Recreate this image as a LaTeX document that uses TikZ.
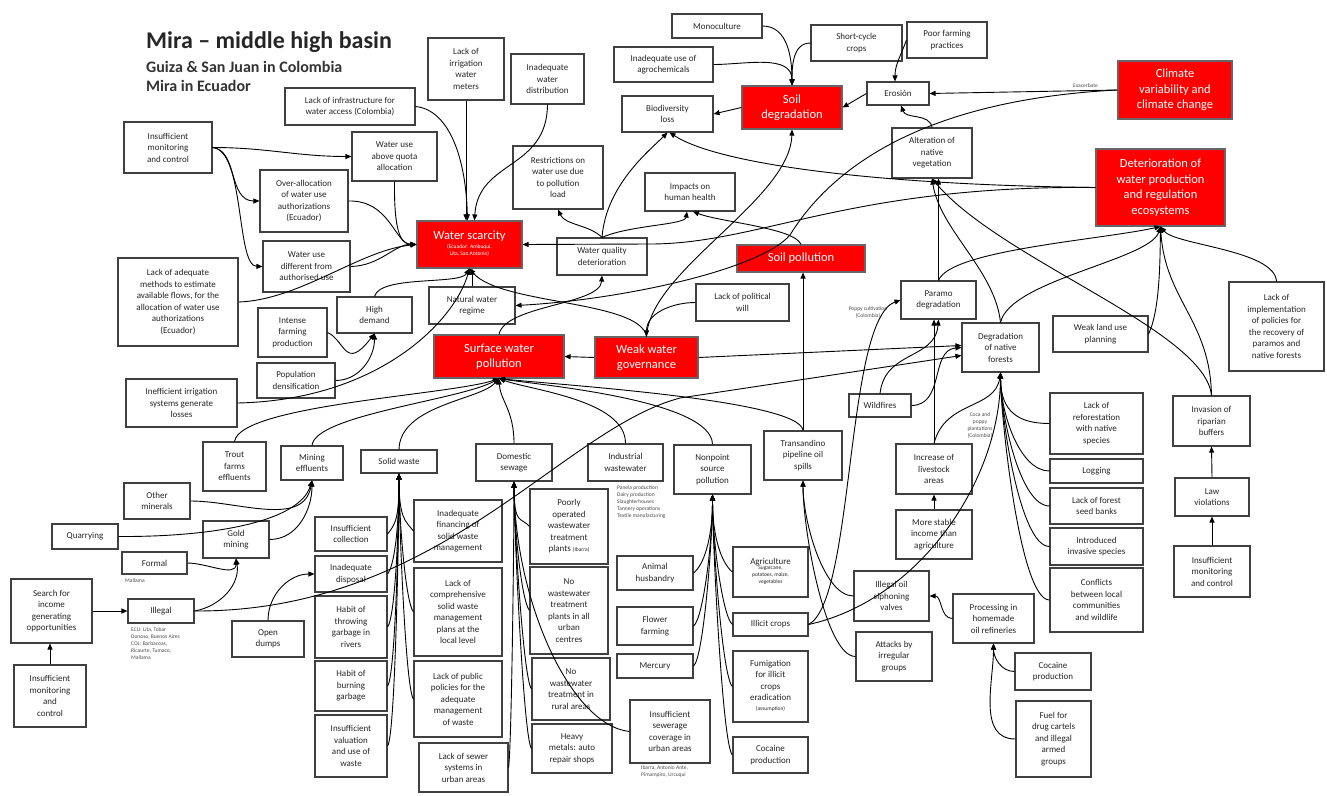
\documentclass[tikz,border=0pt]{standalone}
\usepackage{fontspec}
\setmainfont{Carlito}
\usetikzlibrary{arrows.meta}
\newcommand\smalltxt{\fontsize{5.5}{7}\selectfont}
\newcommand\subtxt[1]{{\smalltxt\begin{tabular}{@{}c@{}}#1\end{tabular}}}
% \bx[style]{name}{x1}{y1}{x2}{y2}{text}: a box given by its corners
\newcommand\bx[7][box]{%
  \pgfmathsetmacro\bw{#5-#3}\pgfmathsetmacro\bh{#6-#4}%
  \pgfmathsetmacro\bcx{(#3+#5)/2}\pgfmathsetmacro\bcy{(#4+#6)/2}%
  \node[#1,minimum width=\bw pt,minimum height=\bh pt] (#2) at (\bcx,\bcy) {#7};}
\begin{document}
\begin{tikzpicture}[x=1pt,y=-1pt,
  box/.style={draw=black!75,line width=1.1pt,fill=white,align=center,inner sep=1pt,
    font=\fontsize{9}{11.5}\selectfont,text=black!85},
  redbox/.style={box,fill=red,draw=black!60,text=white,font=\fontsize{12.5}{15.5}\selectfont},
  ar/.style={draw=black,line width=0.9pt,-{Triangle[length=6pt,width=5pt]}},
  captxt/.style={font=\smalltxt,text=black!70,align=left,inner sep=0pt}]
\useasboundingbox (0,0) rectangle (1327,795);
\fill[white] (0,0) rectangle (1327,795);

% title
\node[anchor=north west,inner sep=0pt,font=\bfseries\fontsize{24}{28}\selectfont,text=black!85] (title) at (146,31) {Mira – middle high basin};
\node[anchor=north west,inner sep=0pt,font=\bfseries\fontsize{16}{19}\selectfont,align=left,text=black!80] (subtitle) at (146,61) {Guiza \& San Juan in Colombia\\Mira in Ecuador};

% upper left: water scarcity
\bx{infra}{285}{88}{415}{125}{Lack of infrastructure for\\water access (Colombia)}
\bx{imc1}{124}{122}{212}{173}{Insufficient\\monitoring\\and control}
\bx{overalloc}{260}{170}{348}{232}{Over-allocation\\of water use\\authorizations\\(Ecuador)}
\bx{diffuse}{263}{241}{350}{292}{Water use\\different from\\authorised use}
\bx{quota}{352}{132}{437}{181}{Water use\\above quota\\allocation}
\bx{meters}{428}{38}{504}{100}{Lack of\\irrigation\\water\\meters}
\bx{distrib}{511}{54}{584}{104}{Inadequate\\water\\distribution}
\bx{restrict}{513}{146}{603}{209}{Restrictions on\\water use due\\to pollution\\load}
\bx[redbox]{ws}{417}{221}{522}{268}{Water scarcity\\[-3pt]\subtxt{(Ecuador: Ambuquí,\\Lita, San Antonio)}}
\bx{methods}{118}{258}{238}{346}{Lack of adequate\\methods to estimate\\available flows, for the\\allocation of water use\\authorizations\\(Ecuador)}
\bx{intense}{258}{308}{327}{357}{Intense\\farming\\production}
\bx{popdens}{257}{363}{335}{398}{Population\\densification}
\bx{highdem}{337}{297}{412}{333}{High\\demand}
\bx{natreg}{429}{287}{515}{324}{Natural water\\regime}
\bx{ineffirr}{126}{379}{237}{427}{Inefficient irrigation\\systems generate\\losses}

% upper middle: soil
\bx{agrochem}{614}{47}{713}{82}{Inadequate use of\\agrochemicals}
\bx{biodiv}{622}{96}{713}{132}{Biodiversity\\loss}
\bx{health}{645}{173}{735}{211}{Impacts on\\human health}
\bx{mono}{672}{14}{762}{38}{Monoculture}
\bx{shortcyc}{811}{25}{902}{61}{Short-cycle\\crops}
\bx{poorfarm}{907}{22}{987}{58}{Poor farming\\practices}
\bx[redbox]{soildeg}{742}{86}{842}{129}{Soil\\degradation}
\bx{erosion}{867}{82}{929}{105}{Erosión}
\bx{altveg}{892}{128}{972}{178}{Alteration of\\native\\vegetation}
\bx[redbox]{soilpol}{737}{245}{865}{272}{Soil pollution}
\bx{wqd}{557}{238}{647}{275}{Water quality\\deterioration}
\bx{polwill}{696}{284}{789}{321}{Lack of political\\will}

% upper right
\bx[redbox]{climate}{1118}{61}{1232}{119}{Climate\\variability and\\climate change}
\bx[redbox]{deter}{1096}{149}{1225}{226}{Deterioration of\\water production\\and regulation\\ecosystems}
\bx{paramo}{901}{281}{976}{319}{Paramo\\degradation}
\bx{forests}{962}{323}{1039}{372}{Degradation\\of native\\forests}
\bx{wildfires}{849}{394}{911}{417}{Wildfires}
\bx{livestock}{896}{444}{972}{494}{Increase of\\livestock\\areas}
\bx{income2}{896}{510}{972}{559}{More stable\\income than\\agriculture}
\bx{landuse}{1053}{316}{1148}{352}{Weak land use\\planning}
\bx{policies}{1229}{282}{1324}{371}{Lack of\\implementation\\of policies for\\the recovery of\\paramos and\\native forests}
\bx{reforest}{1050}{393}{1143}{454}{Lack of\\reforestation\\with native\\species}
\bx{logging}{1050}{459}{1143}{483}{Logging}
\bx{seedbanks}{1050}{488}{1143}{524}{Lack of forest\\seed banks}
\bx{invasive}{1050}{528}{1143}{565}{Introduced\\invasive species}
\bx{conflicts}{1050}{568}{1143}{632}{Conflicts\\between local\\communities\\and wildlife}
\bx{riparian}{1173}{396}{1250}{446}{Invasion of\\riparian\\buffers}
\bx{lawviol}{1175}{478}{1249}{516}{Law\\violations}
\bx{imc3}{1174}{546}{1250}{597}{Insufficient\\monitoring\\and control}
\bx{refineries}{953}{594}{1034}{643}{Processing in\\homemade\\oil refineries}
\bx{cocaine2}{1015}{653}{1091}{690}{Cocaine\\production}
\bx{fuel}{1016}{701}{1091}{777}{Fuel for\\drug cartels\\and illegal\\armed\\groups}
\bx{siphon}{854}{571}{929}{621}{Illegal oil\\siphoning\\valves}
\bx{attacks}{856}{632}{932}{681}{Attacks by\\irregular\\groups}

% middle: pollution
\bx[redbox]{swp}{434}{335}{564}{378}{Surface water\\pollution}
\bx[redbox]{wwg}{595}{337}{698}{378}{Weak water\\governance}
\bx{trout}{203}{442}{266}{491}{Trout\\farms\\effluents}
\bx{mining}{281}{446}{343}{480}{Mining\\effluents}
\bx{solid}{361}{450}{437}{473}{Solid waste}
\bx{domestic}{476}{444}{552}{481}{Domestic\\sewage}
\bx{industrial}{588}{444}{663}{481}{Industrial\\wastewater}
\bx{nonpoint}{674}{445}{751}{494}{Nonpoint\\source\\pollution}
\bx{transand}{764}{431}{842}{480}{Transandino\\pipeline oil\\spills}

% nonpoint sources
\bx{agric}{733}{547}{808}{597}{Agriculture\\[-2pt]\subtxt{Sugarcane,\\potatoes, maize,\\vegetables}}
\bx{illicit}{733}{613}{808}{636}{Illicit crops}
\bx{fumig}{733}{651}{808}{722}{Fumigation\\for illicit\\crops\\eradication\\[-2pt]\subtxt{(assumption)}}
\bx{cocaine1}{733}{737}{808}{773}{Cocaine\\production}
\bx{husbandry}{617}{556}{693}{590}{Animal\\husbandry}
\bx{flower}{617}{607}{693}{645}{Flower\\farming}
\bx{mercury}{617}{654}{693}{678}{Mercury}

% sewage sources
\bx{sewerage}{630}{700}{710}{763}{Insufficient\\sewerage\\coverage in\\urban areas}
\bx{poorwwtp}{530}{489}{608}{564}{Poorly\\operated\\wastewater\\treatment\\plants \subtxt{(Ibarra)}}
\bx{nowwtp}{530}{567}{608}{654}{No\\wastewater\\treatment\\plants in all\\urban\\centres}
\bx{norural}{532}{658}{610}{720}{No\\wastewater\\treatment in\\rural areas}
\bx{heavy}{532}{724}{612}{773}{Heavy\\metals: auto\\repair shops}
\bx{sewers}{419}{743}{508}{792}{Lack of sewer\\systems in\\urban areas}

% solid waste sources
\bx{financing}{414}{500}{502}{562}{Inadequate\\financing of\\solid waste\\management}
\bx{plans}{414}{568}{502}{656}{Lack of\\comprehensive\\solid waste\\management\\plans at the\\local level}
\bx{pubpol}{414}{661}{502}{737}{Lack of public\\policies for the\\adequate\\management\\of waste}
\bx{collection}{315}{517}{387}{551}{Insufficient\\collection}
\bx{disposal}{315}{556}{387}{592}{Inadequate\\disposal}
\bx{throwing}{315}{596}{387}{658}{Habit of\\throwing\\garbage in\\rivers}
\bx{burning}{315}{661}{387}{711}{Habit of\\burning\\garbage}
\bx{valuation}{315}{715}{387}{777}{Insufficient\\valuation\\and use of\\waste}
\bx{dumps}{232}{621}{304}{657}{Open\\dumps}

% mining sources
\bx{gold}{203}{521}{269}{558}{Gold\\mining}
\bx{quarry}{52}{524}{118}{549}{Quarrying}
\bx{minerals}{124}{483}{190}{519}{Other\\minerals}
\bx{formal}{122}{552}{187}{574}{Formal}
\bx{illegal}{128}{599}{194}{623}{Illegal}
\bx{search}{11}{579}{92}{643}{Search for\\income\\generating\\opportunities}
\bx{imc2}{14}{665}{86}{727}{Insufficient\\monitoring\\and\\control}

% small annotations
\node[captxt,anchor=north west] (capformal) at (125,578) {Mallama};
\node[captxt,anchor=north west] (capillegal) at (131,627) {ECU: Lita, Tobar\\Donoso, Buenos Aires\\COL: Barbacoas,\\Ricaurte, Tumaco,\\Mallama};
\node[captxt,anchor=north west] (capind) at (617,485) {Panela production\\Dairy production\\Slaughterhouses\\Tannery operations\\Textile manufacturing};
\node[captxt,anchor=north west] (capsew) at (641,765) {Ibarra, Antonio Ante,\\Pimampiro, Urcuquí};
\node[captxt,align=center] (cappoppy) at (868,312) {Poppy cultivation\\(Colombia)};
\node[captxt,align=center] (capcoca) at (980,425) {Coca and\\poppy\\plantations\\(Colombia)};

% ---- connectors ----
% causes of water scarcity
\draw[ar] (imc1.east) to[out=0,in=180] (quota.west);
\draw[ar] (imc1.east) .. controls (238,150) and (228,201) .. (overalloc.west);
\draw[ar] (imc1.east) .. controls (245,150) and (236,266) .. (diffuse.west);
\draw[ar] (infra.east) .. controls (450,110) and (466,160) .. ([xshift=-2]ws.north);
\draw[ar] (meters.south) -- (meters.south |- ws.north);
\draw[ar] (distrib.south) .. controls (547,170) and (478,160) .. ([xshift=5]ws.north);
\draw[ar] (quota.south) .. controls (394,230) and (400,244) .. (ws.west);
\draw[ar] (overalloc.east) .. controls (390,200) and (395,244) .. (ws.west);
\draw[ar] (diffuse.east) .. controls (380,266) and (395,244) .. (ws.west);
\draw[ar] (methods.east) .. controls (300,300) and (360,250) .. (ws.west);
\draw[ar] (highdem.north) .. controls (380,275) and (460,285) .. (ws.south);
\draw[ar] (natreg.north) -- (natreg.north |- ws.south);
\draw[ar] (ineffirr.east) .. controls (380,400) and (455,320) .. (ws.south);
\draw[ar] (popdens.east) to[out=0,in=-90] (highdem.south);
\draw[ar] (intense.east) .. controls (345,340) and (345,372) .. (highdem.south);

% water quality and soil
\draw[ar] (wqd.north) .. controls (590,225) and (565,225) .. (restrict.south);
\draw[ar] (wqd.north) .. controls (606,185) and (650,150) .. (biodiv.south);
\draw[ar] (wqd.north) .. controls (630,225) and (685,225) .. ([xshift=-3]health.south);
\draw[ar] (soilpol.north) .. controls (795,228) and (720,222) .. ([xshift=3]health.south);
\draw[ar] (swp.north) .. controls (505,305) and (600,305) .. (wqd.south);
\draw[ar] (soildeg.west) -- (biodiv.east);
\draw[ar] (mono.east) to[out=0,in=90] (soildeg.north);
\draw[ar] (agrochem.east) to[out=0,in=90] (soildeg.north);
\draw[ar] (shortcyc.west) to[out=180,in=90] (soildeg.north);
\draw[ar] (poorfarm.west) to[out=-110,in=90] ([xshift=-3]erosion.north);
\draw[ar] (erosion.west) -- (soildeg.east);
\draw[ar] (climate.west) -- (erosion.east) node[captxt,pos=0.17,above=3pt] {Exacerbate};
\draw[ar] (altveg.north) to[out=100,in=-70] ([xshift=3]erosion.south);
\draw[ar] (climate.west) .. controls (920,100) and (830,170) .. (790,235) .. controls (760,270) and (620,300) .. (natreg.east);

% governance
\draw[ar] (polwill.west) to[out=180,in=90] (wwg.north);
\draw[ar] (wwg.north) .. controls (640,300) and (500,305) .. (ws.south);
\draw[ar] (wwg.north) .. controls (650,270) and (790,200) .. (soildeg.south);
\draw[ar] (wwg.west) -- (swp.east);
\draw[ar] (wwg.east) -- ([yshift=2]forests.west);

% ecosystems
\draw[ar] (deter.west) .. controls (880,185) and (720,165) .. ([xshift=2]biodiv.south);
\draw[ar] (deter.west) .. controls (850,185) and (760,244) .. (650,244) -- (ws.east);
\draw[ar] (paramo.north) -- (paramo.north |- altveg.south);
\draw[ar] (paramo.north) .. controls (950,250) and (1100,240) .. (deter.south);
\draw[ar] (forests.north) .. controls (995,270) and (940,230) .. (altveg.south);
\draw[ar] (forests.north) .. controls (1010,280) and (1150,260) .. (deter.south);
\draw[ar] (riparian.north) .. controls (1205,330) and (1000,260) .. (altveg.south);
\draw[ar] (riparian.north) .. controls (1210,320) and (1165,300) .. (deter.south);
\draw[ar] (landuse.east) .. controls (1160,310) and (1160,260) .. (deter.south);
\draw[ar] (policies.north) .. controls (1275,250) and (1175,245) .. (deter.south);
\draw[ar] (livestock.north) -- (livestock.north |- paramo.south);
\draw[ar] (livestock.north) .. controls (945,400) and (995,410) .. (forests.south);
\draw[ar] (income2.north) -- (livestock.south);
\draw[ar] (wildfires.north) .. controls (885,350) and (935,360) .. (paramo.south);
\draw[ar] (wildfires.east) .. controls (945,405) and (930,350) .. (forests.west);
\draw[ar] (illicit.east) .. controls (855,600) and (845,320) .. (paramo.west);
\draw[ar] (illicit.east) .. controls (920,600) and (1000,480) .. (forests.south);
\foreach \n in {reforest,logging,seedbanks,invasive,conflicts}
  \draw[ar] (\n.west) .. controls ([xshift=-30]\n.west) and ([yshift=-40]forests.south) .. (forests.south);
\draw[ar] (lawviol.north) -- (riparian.south);
\draw[ar] (imc3.north) -- (lawviol.south);
\draw[ar] (illegal.east) .. controls (440,612) and (560,430) .. (680,398) -- ([yshift=-8]forests.west);

% mining
\draw[ar] (minerals.east) to[out=0,in=-100] (mining.south);
\draw[ar] (quarry.east) .. controls (220,537) and (300,520) .. (mining.south);
\draw[ar] (gold.east) to[out=0,in=-90] (mining.south);
\draw[ar] (formal.east) to[out=0,in=-90] (gold.south);
\draw[ar] (illegal.east) to[out=10,in=-80] (gold.south);
\draw[ar] (search.east) -- (illegal.west);
\draw[ar] (imc2.north) -- (imc2.north |- search.south);

% surface water pollution
\draw[ar] (trout.north) .. controls (240,405) and (450,395) .. (swp.south);
\draw[ar] (mining.north) .. controls (315,415) and (460,400) .. (swp.south);
\draw[ar] (solid.north) .. controls (400,405) and (480,400) .. (swp.south);
\draw[ar] (domestic.north) .. controls (514,410) and (500,400) .. (swp.south);
\draw[ar] (industrial.north) .. controls (626,400) and (530,390) .. (swp.south);
\draw[ar] (nonpoint.north) .. controls (712,400) and (540,385) .. (swp.south);
\draw[ar] (transand.north) .. controls (800,400) and (560,385) .. (swp.south);
\draw[ar] (transand.north) -- (transand.north |- soilpol.south);

% solid waste
\foreach \n in {collection,disposal,throwing,burning,valuation}
  \draw[ar] (\n.east) .. controls ([xshift=8,yshift=10]\n.east) and ([yshift=-45]solid.south) .. (solid.south);
\foreach \n in {financing,plans,pubpol}
  \draw[ar] (\n.west) .. controls ([xshift=-8,yshift=10]\n.west) and ([yshift=-45]solid.south) .. (solid.south);
\draw[ar] (dumps.north) to[out=90,in=180] (disposal.west);

% domestic sewage
\draw[ar] (sewers.east) .. controls ([xshift=3,yshift=20]sewers.east) and ([yshift=-60]domestic.south) .. (domestic.south);
\foreach \n in {poorwwtp,nowwtp,norural,heavy}
  \draw[ar] (\n.west) .. controls ([xshift=-8,yshift=10]\n.west) and ([yshift=-45]domestic.south) .. (domestic.south);
\draw[ar] (sewerage.west) .. controls (570,725) and (515,600) .. (domestic.south);

% nonpoint sources
\foreach \n in {husbandry,flower,mercury}
  \draw[ar] (\n.east) .. controls ([xshift=10,yshift=8]\n.east) and ([yshift=-45]nonpoint.south) .. (nonpoint.south);
\foreach \n in {agric,illicit,fumig,cocaine1}
  \draw[ar] (\n.west) .. controls ([xshift=-10,yshift=8]\n.west) and ([yshift=-45]nonpoint.south) .. (nonpoint.south);

% pipeline
\draw[ar] (siphon.west) .. controls ([xshift=-30]siphon.west) and ([yshift=-40]transand.south) .. (transand.south);
\draw[ar] (attacks.west) .. controls ([xshift=-30]attacks.west) and ([yshift=-50]transand.south) .. (transand.south);
\draw[ar] (refineries.west) to[out=180,in=0] (siphon.east);
\draw[ar] (cocaine2.west) to[out=180,in=-90] (refineries.south);
\draw[ar] (fuel.west) to[out=180,in=-90] (refineries.south);
\end{tikzpicture}
\end{document}
